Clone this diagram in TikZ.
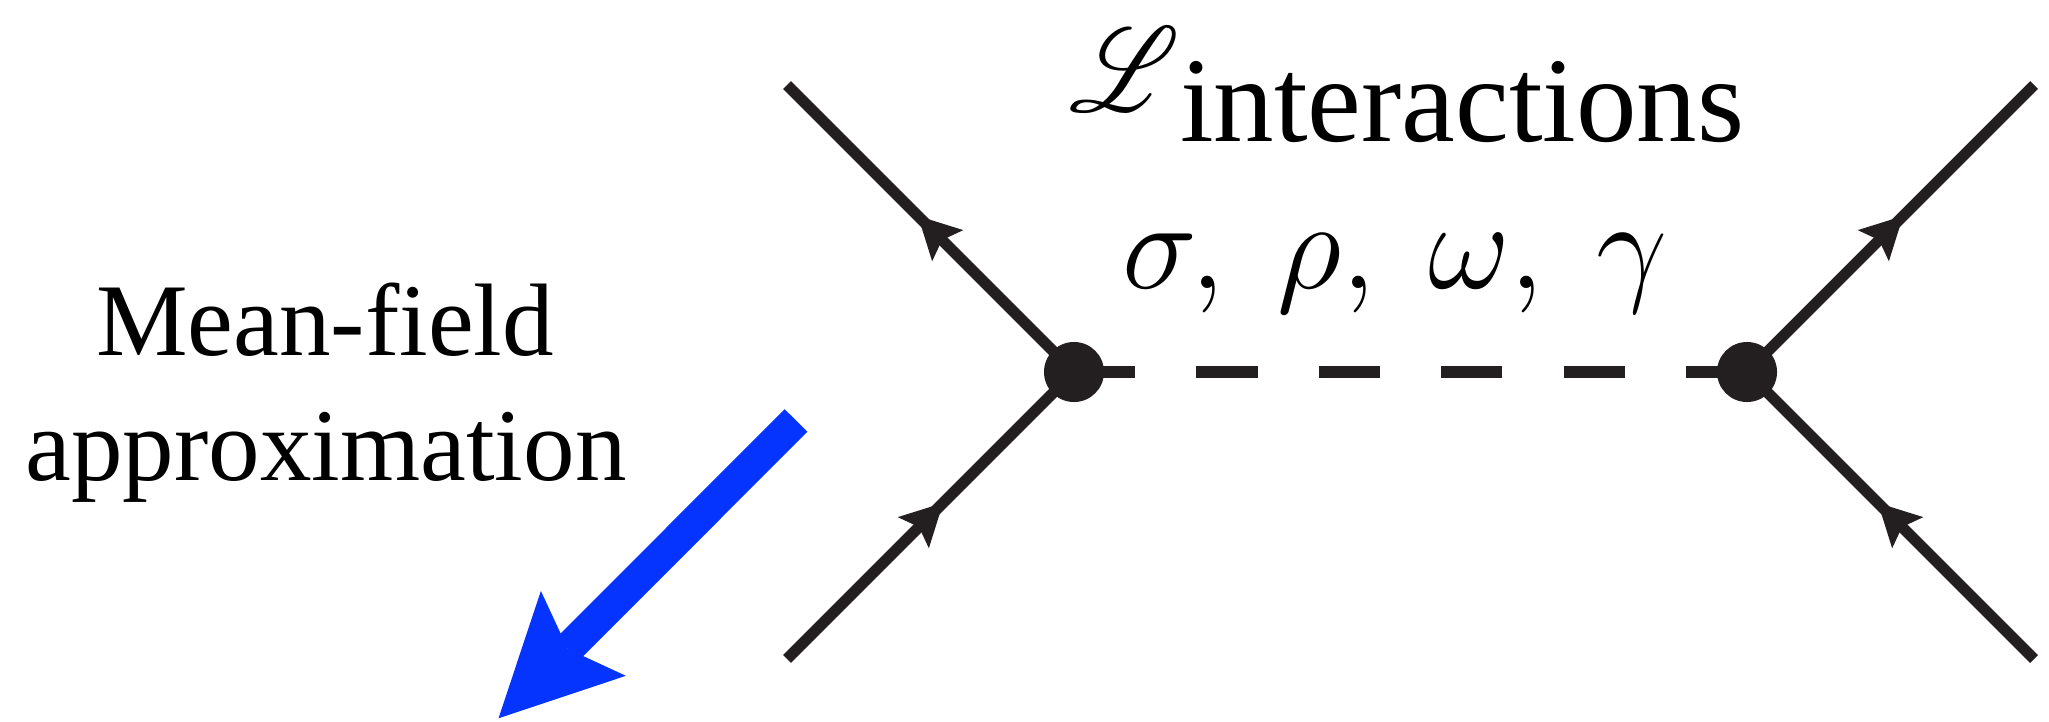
\documentclass[tikz,border=0pt]{standalone}
\usepackage{fix-cm}
\usepackage{graphicx}
\usepackage{fontspec}
\setmainfont{Liberation Serif}
\usepackage{mathrsfs}
\usetikzlibrary{arrows.meta,decorations.markings}
\definecolor{inkblack}{HTML}{231F20}
\definecolor{mfblue}{RGB}{5,51,255}
\tikzset{
  fermion/.style={draw=inkblack, line width=0.11cm, line cap=butt,
    postaction={decorate, decoration={markings,
      mark=at position 0.545 with {\arrow[inkblack]{Stealth[length=0.42cm,width=0.44cm,inset=0.08cm,line width=0pt]}}}}},
  meson/.style={draw=inkblack, line width=0.125cm, line cap=butt, dash pattern=on 0.6115cm off 0.6115cm},
  vertexdot/.style={circle, fill=inkblack, draw=none, inner sep=0pt, minimum size=0.6cm},
  mfarrow/.style={draw=mfblue, line width=0.32cm, line cap=butt,
    -{Stealth[length=1.2cm,width=1.2cm,inset=0.22cm,line width=0pt]}},
  lbl/.style={inner sep=0pt, outer sep=0pt, text=black},
}
\begin{document}
\begin{tikzpicture}[x=0.01cm, y=-0.01cm]
\useasboundingbox (0,0) rectangle (2049,721);
% vertices and external points
\coordinate (v1) at (1074,372);
\coordinate (v2) at (1747,372);
\coordinate (ul) at (787,85);
\coordinate (ll) at (787,659);
\coordinate (ur) at (2034,85);
\coordinate (lr) at (2034,659);
% meson exchange
\draw[meson] (v1) -- (v2);
% fermion lines
\draw[fermion] (v1) -- (ul);
\draw[fermion] (ll) -- (v1);
\draw[fermion] (v2) -- (ur);
\draw[fermion] (lr) -- (v2);
% vertex dots
\node[vertexdot] (d1) at (v1) {};
\node[vertexdot] (d2) at (v2) {};
% labels
\node[lbl, anchor=south west] (lag) at (1069,111) {\resizebox*{1.1cm}{0.84cm}{$\mathscr{L}$}};
\node[lbl, anchor=base west] (inter) at (1180,141.7) {\fontsize{34.4}{38}\selectfont interactions};
\node[lbl, anchor=base west] (mesons) at (1122,288) {\fontsize{36}{40}\selectfont $\sigma,\ \rho,\ \omega,\ \gamma$};
\node[lbl, anchor=base] (mf1) at (325,355.5) {\fontsize{29.3}{32}\selectfont Mean-field};
\node[lbl, anchor=base] (mf2) at (326,480) {\fontsize{29.3}{32}\selectfont approximation};
% mean-field arrow
\coordinate (mfstart) at (796,420.5);
\coordinate (mftip) at (498.5,718.3);
\draw[mfarrow] (mfstart) -- (mftip);
\end{tikzpicture}
\end{document}
